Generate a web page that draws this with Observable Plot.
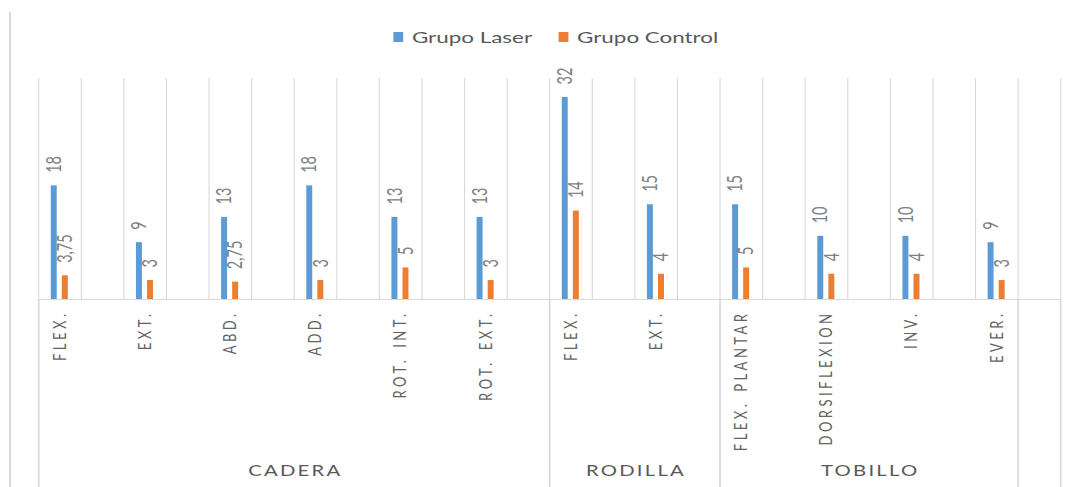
<!DOCTYPE html>
<html lang="es">
<head>
<meta charset="utf-8">
<script src="https://cdn.jsdelivr.net/npm/d3@7"></script>
<script src="https://cdn.jsdelivr.net/npm/@observablehq/plot@0.6"></script>
<style>
  html, body { margin: 0; padding: 0; background: #fff; }
  #page { position: relative; width: 1085px; height: 487px; overflow: hidden; background: #fff; font-family: Lato, "Open Sans", sans-serif; }
  #edge { position: absolute; left: 8.5px; top: 12px; width: 2px; height: 475px; background: #d9d9d9; }
  /* the figure is laid out on a narrower canvas and widened horizontally */
  #frame { position: absolute; left: 0; top: 0; transform-origin: 0 0; }
  #legend { position: relative; height: 60px; }
  #legend .items { position: absolute; top: 27px; height: 20px; display: flex; align-items: center; }
  #legend .item { display: flex; align-items: center; margin-right: 18.6px; }
  #legend .swatch { width: 7.14px; height: 10px; margin-right: 6.4px; }
  #legend .label { font-size: 16px; color: #595959; line-height: 20px; white-space: nowrap; }
  .cat-label text { letter-spacing: 3.5px; word-spacing: 2px; }
  .group-label text { letter-spacing: 1.6px; }
</style>
</head>
<body>
<div id="page">
  <div id="edge"></div>
  <div id="frame">
    <div id="legend"><div class="items"></div></div>
    <div id="chart"></div>
  </div>
</div>
<script>
// Rango articular: media por grupo y movimiento
const articulacion = ["CADERA", "CADERA", "CADERA", "CADERA", "CADERA", "CADERA",
                      "RODILLA", "RODILLA",
                      "TOBILLO", "TOBILLO", "TOBILLO", "TOBILLO"];
const movimiento = ["FLEX.", "EXT.", "ABD.", "ADD.", "ROT. INT.", "ROT. EXT.",
                    "FLEX.", "EXT.",
                    "FLEX. PLANTAR", "DORSIFLEXION", "INV.", "EVER."];
const grupoLaser   = [18, 9, 13, 18, 13, 13, 32, 15, 15, 10, 10, 9];
const grupoControl = [3.75, 3, 2.75, 3, 5, 3, 14, 4, 5, 4, 4, 3];
const series  = ["Grupo Laser", "Grupo Control"];
const colores = ["#5B9BD5", "#ED7D31"];
const yMax = 35;

// Page geometry (display pixels)
const STRETCH = 1.4;
const PAGE_W = 1085;
const PLOT_LEFT = 38, PLOT_RIGHT = 1060, PLOT_TOP = 78, PLOT_BOTTOM = 299, PAGE_H = 487;
const LEGEND_H = 60;

// Every movement is followed by an empty spacer slot on the category axis
const nSlots = movimiento.length * 2;
const slotOf = i => 2 * i;

// Group extents in slot units
const gruposUnicos = Array.from(new Set(articulacion));
const grupos = gruposUnicos.map((g, k) => {
  const first = articulacion.indexOf(g);
  const last = articulacion.lastIndexOf(g);
  const start = slotOf(first);
  const end = k < gruposUnicos.length - 1 ? slotOf(articulacion.indexOf(gruposUnicos[k + 1])) : slotOf(last) + 1;
  return {name: g, start, end};
});
const separadores = Array.from(new Set([...grupos.flatMap(g => [g.start, g.end]), nSlots]));

const BAR_OFFSET = 0.13; // distance of each bar centre from the slot centre (fraction of a slot)
const BAR_HALF = 0.07;   // half bar width (fraction of a slot)

const filas = [];
movimiento.forEach((m, i) => {
  [grupoLaser[i], grupoControl[i]].forEach((v, s) => {
    const c = slotOf(i) + 0.5 + (s === 0 ? -BAR_OFFSET : BAR_OFFSET);
    filas.push({movimiento: m, articulacion: articulacion[i], serie: series[s], valor: v, centro: c});
  });
});
const categorias = movimiento.map((m, i) => ({name: m, centro: slotOf(i) + 0.5}));
const fmt = v => String(v).replace(".", ",");

const W = PAGE_W / STRETCH;
const H = PAGE_H - LEGEND_H;
const marginTop = PLOT_TOP - LEGEND_H;
const marginBottom = PAGE_H - PLOT_BOTTOM;

document.getElementById("frame").style.width = W + "px";
document.getElementById("frame").style.transform = `scaleX(${STRETCH})`;

// Legend
const items = d3.select("#legend .items").style("left", (393 / STRETCH) + "px");
series.forEach((s, k) => {
  const it = items.append("div").attr("class", "item");
  it.append("div").attr("class", "swatch").style("background", colores[k]);
  it.append("div").attr("class", "label").text(s);
});

const chart = Plot.plot({
  width: W,
  height: H,
  marginTop,
  marginBottom,
  marginLeft: PLOT_LEFT / STRETCH,
  marginRight: (PAGE_W - PLOT_RIGHT) / STRETCH,
  x: {domain: [0, nSlots], axis: null},
  y: {domain: [0, yMax], axis: null},
  color: {domain: series, range: colores},
  style: {fontFamily: "Lato, 'Open Sans', sans-serif", background: "transparent", overflow: "visible"},
  marks: [
    // slot gridlines
    Plot.ruleX(d3.range(nSlots + 1), {y1: 0, y2: yMax, stroke: "#d9d9d9", strokeWidth: 0.8}),
    // group separators running down through the label area
    Plot.ruleX(separadores, {y1: 0, y2: 0, insetBottom: -marginBottom, stroke: "#d9d9d9", strokeWidth: 1.2}),
    // category axis line
    Plot.ruleY([0], {x1: 0, x2: nSlots, stroke: "#d9d9d9", strokeWidth: 1.2}),
    // bars
    Plot.rectY(filas, {
      x1: d => d.centro - BAR_HALF,
      x2: d => d.centro + BAR_HALF,
      y1: 0,
      y2: "valor",
      fill: "serie"
    }),
    // value labels
    Plot.text(filas, {
      x: "centro",
      y: "valor",
      text: d => fmt(d.valor),
      rotate: -90,
      textAnchor: "start",
      dy: -13,
      fontSize: 14.5,
      fill: "#808080"
    }),
    // movement labels
    Plot.text(categorias, {
      x: "centro",
      y: () => 0,
      text: "name",
      rotate: -90,
      textAnchor: "end",
      dy: 11,
      fontSize: 13,
      fill: "#636363",
      className: "cat-label"
    }),
    // joint labels
    Plot.text(grupos, {
      x: d => (d.start + d.end) / 2,
      y: () => 0,
      text: "name",
      dy: 172,
      dx: 0.8,
      fontSize: 14.5,
      fill: "#595959",
      className: "group-label"
    })
  ]
});
document.getElementById("chart").appendChild(chart);
</script>
</body>
</html>
